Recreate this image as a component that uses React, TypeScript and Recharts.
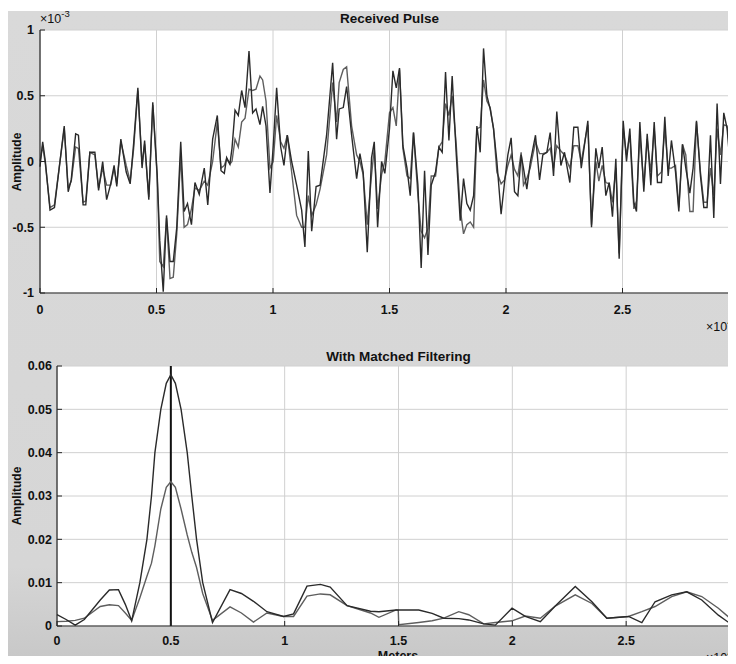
import React from 'react';
import { LineChart, Line, XAxis, YAxis, CartesianGrid, ReferenceLine } from 'recharts';

const FONT = '"Liberation Sans", Arial, Helvetica, sans-serif';

// shared range axis (meters)
const X_TICKS = [0, 5000, 10000, 15000, 20000, 25000, 30000];
const TOP_Y_TICKS = [-1, -0.5, 0, 0.5, 1];
const BOT_Y_TICKS = [0, 0.01, 0.02, 0.03, 0.04, 0.05, 0.06];

// received pulse, amplitude in units of 1e-3
const TOP_M = [
  0, 115, 230, 430, 620, 1040, 1210, 1340, 1530, 1650,
  1850, 1965, 2140, 2355, 2515, 2690, 2860, 3035, 3180, 3295,
  3470, 3700, 3870, 4020, 4200, 4380, 4490, 4670, 4840, 5030,
  5140, 5290, 5430, 5580, 5720, 5870, 6040, 6185, 6330, 6500,
  6650, 6835, 7050, 7200, 7410, 7610, 7770, 7910, 8010, 8150,
  8240, 8370, 8510, 8655, 8800, 8970, 9126, 9270, 9440, 9556,
  9700, 9870, 10010, 10156, 10330, 10470, 10614, 10800, 11014, 11230,
  11370, 11515, 11660, 11850, 12020, 12300, 12560, 12730, 12840, 13016,
  13160, 13375, 13590, 13730, 13870, 14045, 14230, 14346, 14490, 14660,
  14800, 15000, 15146, 15290, 15430, 15575, 15750, 15890, 16030, 16220,
  16360, 16505, 16650, 16790, 16976, 17120, 17262, 17405, 17550, 17690,
  17863, 18035, 18178, 18320, 18464, 18610, 18750, 18893, 19036, 19180,
  19320, 19465, 19608, 19790, 19937, 20080, 20220, 20366, 20510, 20650,
  20750, 20894, 21038, 21266, 21440, 21580, 21753, 21896, 22040, 22180,
  22355, 22510, 22740, 22910, 23085, 23230, 23513, 23670, 23856, 23985,
  24128, 24285, 24430, 24570, 24714, 24857, 25030, 25172, 25315, 25487,
  25600, 25745, 25915, 26060, 26216, 26360, 26500, 26673, 26816, 26960,
  27100, 27275, 27417, 27575, 27717, 27890, 28030, 28175, 28346, 28490,
  28630, 28775, 28918, 29060, 29204, 29346, 29490, 29660, 29820, 30000,
];

const TOP_A = [
  -0.04, 0.15, 0.0, -0.37, -0.35, 0.27, -0.23, -0.14, 0.21, 0.2,
  -0.33, -0.33, 0.07, 0.07, -0.22, 0.0, -0.29, -0.17, -0.03, -0.19,
  0.17, -0.08, -0.17, 0.14, 0.56, -0.05, 0.16, -0.29, 0.45, -0.1,
  -0.6, -0.99, -0.41, -0.76, -0.76, -0.5, 0.15, -0.38, -0.32, -0.48,
  -0.16, -0.25, -0.05, -0.33, 0.17, 0.35, -0.07, -0.09, 0.03, -0.02,
  0.1, 0.39, 0.35, 0.54, 0.41, 0.84, 0.37, 0.4, 0.28, 0.42,
  0.27, -0.24, 0.12, 0.56, 0.11, -0.03, 0.2, 0.0, -0.18, -0.37,
  -0.65, 0.08, -0.53, -0.19, -0.18, 0.2, 0.75, 0.17, 0.4, 0.41,
  0.57, 0.2, -0.13, 0.06, -0.08, -0.69, 0.03, 0.15, -0.5, 0.0,
  -0.09, 0.25, 0.69, 0.56, 0.71, 0.12, -0.05, -0.26, 0.22, -0.18,
  -0.81, -0.07, -0.71, -0.18, -0.08, 0.11, 0.07, 0.68, 0.16, 0.65,
  0.06, -0.45, -0.13, -0.32, -0.37, -0.26, 0.27, 0.07, 0.86, 0.5,
  0.4, 0.25, 0.0, -0.4, -0.16, 0.05, 0.18, -0.23, -0.26, 0.05,
  -0.05, -0.21, -0.01, 0.2, -0.14, 0.05, 0.07, 0.22, -0.11, 0.38,
  -0.03, 0.07, -0.16, 0.26, 0.26, -0.05, 0.31, -0.5, 0.1, -0.05,
  0.11, -0.26, -0.16, -0.42, 0.02, -0.74, 0.31, 0.0, 0.25, -0.31,
  -0.38, 0.3, -0.23, 0.21, -0.18, 0.3, -0.16, -0.16, 0.34, -0.11,
  0.16, -0.08, -0.38, 0.13, -0.05, -0.24, -0.05, 0.31, -0.11, -0.35,
  -0.35, 0.2, -0.43, 0.44, -0.17, 0.37, 0.25, -0.11, 0.02, 0.0,
];

const TOP_B = [
  0.0, 0.12, -0.02, -0.35, -0.33, 0.25, -0.2, -0.15, 0.11, 0.1,
  -0.31, -0.3, 0.07, 0.05, -0.2, -0.05, -0.18, -0.18, -0.05, -0.17,
  0.15, -0.03, -0.15, 0.1, 0.54, -0.02, 0.13, -0.27, 0.43, -0.12,
  -0.76, -0.8, -0.43, -0.89, -0.88, -0.55, 0.05, -0.5, -0.48, -0.36,
  -0.2, -0.22, -0.15, -0.18, 0.0, 0.3, -0.05, -0.03, 0.02, -0.02,
  0.0, 0.17, 0.11, 0.3, 0.33, 0.55, 0.54, 0.55, 0.65, 0.62,
  0.46, -0.05, 0.0, 0.35, 0.15, 0.1, 0.2, -0.08, -0.41, -0.5,
  -0.5, -0.26, -0.41, -0.33, -0.21, 0.05, 0.6, 0.3, 0.6, 0.7,
  0.72, 0.27, 0.05, 0.0, -0.1, -0.48, -0.1, 0.1, -0.36, -0.1,
  0.0, 0.37, 0.41, 0.27, 0.7, 0.1, -0.11, -0.13, 0.22, -0.26,
  -0.53, -0.58, -0.51, -0.11, -0.11, 0.11, 0.15, 0.44, 0.35, 0.5,
  0.13, -0.36, -0.55, -0.48, -0.46, -0.5, 0.25, 0.26, 0.62, 0.46,
  0.41, 0.25, -0.08, -0.17, -0.14, -0.03, 0.05, -0.06, -0.11, 0.07,
  -0.18, -0.13, -0.05, 0.15, 0.06, 0.06, 0.07, 0.1, -0.05, 0.12,
  0.08, 0.05, -0.05, 0.12, 0.12, 0.0, 0.28, -0.48, 0.0, -0.15,
  -0.03, -0.16, -0.17, -0.31, -0.05, -0.7, 0.25, 0.05, 0.2, -0.36,
  -0.3, 0.2, -0.18, 0.17, -0.08, 0.25, -0.11, -0.08, 0.25, -0.05,
  -0.05, -0.03, -0.35, 0.13, 0.05, -0.38, -0.38, 0.3, -0.08, -0.31,
  -0.31, -0.05, -0.26, 0.25, 0.05, 0.28, 0.27, 0.0, 0.01, 0.0,
];

// matched filter output
const BOT_M = [
  0, 400, 800, 1200, 1900, 2300, 2700, 3000, 3280, 3640,
  3950, 4150, 4300, 4560, 4800, 5000, 5200, 5450, 5720, 5920,
  6130, 6400, 6830, 7600, 8100, 8630, 9220, 9950, 10390, 10980,
  11570, 12000, 12740, 13770, 14140, 14900, 14990, 15010, 15890, 16477,
  16990, 17647, 18085, 18743, 19255, 19986, 20570, 21229, 21886, 22764,
  23495, 24153, 25103, 25688, 26270, 27000, 27660, 28320, 29050, 29560,
  29780, 30000,
];

const BOT_A = [
  0.0026, 0.0015, 0.0002, 0.0015, 0.006, 0.0083, 0.0084, 0.005, 0.0012, 0.01,
  0.02, 0.03, 0.04, 0.05, 0.056, 0.058, 0.056, 0.05, 0.04, 0.03,
  0.02, 0.01, 0.0008, 0.0084, 0.0075, 0.0057, 0.0033, 0.0022, 0.0028, 0.0092,
  0.0096, 0.009, 0.0047, 0.0034, 0.0033, 0.0037, 0.0037, 0.0037, 0.0037, 0.0029,
  0.0018, 0.0017, 0.0014, 0.0005, 0.0002, 0.0041, 0.0022, 0.001, 0.0046, 0.0091,
  0.0056, 0.0018, 0.0022, 0.0008, 0.0056, 0.0072, 0.0079, 0.006, 0.0025, 0.0006,
  0.0022, 0.0025,
];

const BOT_B = [
  0.001, 0.0011, 0.0013, 0.0018, 0.0045, 0.0049, 0.0047, 0.003, 0.0013, 0.0065,
  0.0115, 0.0145, 0.0185, 0.027, 0.032, 0.0333, 0.032, 0.027, 0.021, 0.017,
  0.0135, 0.0075, 0.0013, 0.0044, 0.003, 0.0009, 0.003, 0.0022, 0.0022, 0.0069,
  0.0074, 0.0072, 0.0047, 0.003, 0.002, 0.0037, 0.0036, 0.0003, 0.0008, 0.0012,
  0.0018, 0.0033, 0.0026, 0.0005, 0.0008, 0.0012, 0.0023, 0.0018, 0.0046, 0.0072,
  0.0052, 0.0018, 0.0022, 0.0033, 0.0045, 0.0068, 0.0079, 0.0068, 0.0041, 0.0018,
  0.0014, 0.0012,
];

const topData = TOP_M.map((m, i) => ({ m, a: TOP_A[i], b: TOP_B[i] }));
const botData = BOT_M.map((m, i) => ({ m, a: BOT_A[i], b: BOT_B[i] }));

const AXIS = '#262626';
const fmtX = (v: number) => String(v / 10000);
const fmtY = (v: number) => String(v);

const label = { fontFamily: FONT, fontWeight: 700, fill: '#111' };

// MATLAB style ticks: marks point into the plot box
function BottomTick(props: any) {
  const { x, y, payload, gap } = props;
  const ay = y - gap;
  return (
    <g>
      <line x1={x} x2={x} y1={ay} y2={ay - 5} stroke={AXIS} />
      <text x={x} y={y} dy="0.71em" textAnchor="middle" fontSize={12.5} {...label}>
        {fmtX(payload.value)}
      </text>
    </g>
  );
}

function LeftTick(props: any) {
  const { x, y, payload, gap } = props;
  const ax = x + gap;
  return (
    <g>
      <line x1={ax} x2={ax + 5} y1={y} y2={y} stroke={AXIS} />
      <text x={x} y={y} dy="0.35em" textAnchor="end" fontSize={12.5} {...label}>
        {fmtY(payload.value)}
      </text>
    </g>
  );
}

function TopTick(props: any) {
  const { x, y } = props;
  return <line x1={x} x2={x} y1={y} y2={y + 5} stroke={AXIS} />;
}

function RightTick(props: any) {
  const { x, y } = props;
  return <line x1={x} x2={x - 5} y1={y} y2={y} stroke={AXIS} />;
}

function Panel({ data, width, height, margin, yTicks, yDomain, yWidth, xHeight, xGap, yGap, children }: any) {
  return (
    <LineChart width={width} height={height} margin={margin} data={data}>
      <CartesianGrid stroke="#d0d0d0" fill="#ffffff" />
      <XAxis
        dataKey="m"
        type="number"
        domain={[0, 30000]}
        ticks={X_TICKS}
        interval={0}
        height={xHeight}
        tickSize={0}
        tickMargin={xGap}
        axisLine={{ stroke: AXIS, strokeWidth: 1.2 }}
        tickLine={false}
        tick={(p: any) => <BottomTick {...p} gap={xGap} />}
      />
      <XAxis
        xAxisId="top"
        orientation="top"
        type="number"
        domain={[0, 30000]}
        ticks={X_TICKS}
        interval={0}
        height={0}
        tickSize={0}
        tickMargin={0}
        axisLine={{ stroke: AXIS, strokeWidth: 1.2 }}
        tickLine={false}
        tick={(p: any) => <TopTick {...p} />}
      />
      <YAxis
        type="number"
        domain={yDomain}
        ticks={yTicks}
        interval={0}
        width={yWidth}
        tickSize={0}
        tickMargin={yGap}
        axisLine={{ stroke: AXIS, strokeWidth: 1.2 }}
        tickLine={false}
        tick={(p: any) => <LeftTick {...p} gap={yGap} />}
      />
      <YAxis
        yAxisId="right"
        orientation="right"
        type="number"
        domain={yDomain}
        ticks={yTicks}
        interval={0}
        width={0}
        tickSize={0}
        tickMargin={0}
        axisLine={{ stroke: AXIS, strokeWidth: 1.2 }}
        tickLine={false}
        tick={(p: any) => <RightTick {...p} />}
      />
      {children}
      <Line type="linear" dataKey="b" stroke="#5e5e5e" strokeWidth={1.4} dot={false} isAnimationActive={false} />
      <Line type="linear" dataKey="a" stroke="#2a2a2a" strokeWidth={1.4} dot={false} isAnimationActive={false} />
    </LineChart>
  );
}

const text = (extra: React.CSSProperties): React.CSSProperties => ({
  position: 'absolute',
  fontFamily: FONT,
  color: '#111',
  whiteSpace: 'nowrap',
  lineHeight: 1,
  ...extra,
});

function Exponent({ left, top, power }: { left: number; top: number; power: string }) {
  return (
    <div style={text({ left, top, fontSize: 12.5 })}>
      ×10<span style={{ fontSize: 9.5, position: 'relative', top: -6 }}>{power}</span>
    </div>
  );
}

export default function App() {
  return (
    <div style={{ position: 'relative', width: 736, height: 664, margin: -8, overflow: 'hidden', background: '#fff' }}>
      <div
        style={{
          position: 'absolute', left: 8, top: 11, right: 0, bottom: 0,
          background: 'linear-gradient(to bottom, #d9d9d9 0%, #d6d6d6 85%, #c7c7c7 100%)',
        }}
      />
      <div style={{ position: 'absolute', left: 0, top: 0 }}>
        <Panel
          data={topData}
          width={760}
          height={340}
          margin={{ top: 30, right: 21, bottom: 0, left: 0 }}
          yTicks={TOP_Y_TICKS}
          yDomain={[-1, 1]}
          yWidth={40}
          xHeight={47}
          xGap={12}
          yGap={6}
        />
      </div>
      <div style={{ position: 'absolute', left: 0, top: 340 }}>
        <Panel
          data={botData}
          width={760}
          height={324}
          margin={{ top: 26, right: 20, bottom: 0, left: 0 }}
          yTicks={BOT_Y_TICKS}
          yDomain={[0, 0.06]}
          yWidth={57}
          xHeight={38}
          xGap={10}
          yGap={5}
        >
          <ReferenceLine x={5000} stroke="#111" strokeWidth={2} />
        </Panel>
      </div>

      <div style={text({ left: 389.5, top: 19, fontSize: 13.5, fontWeight: 700, transform: 'translate(-50%, -50%)' })}>
        Received Pulse
      </div>
      <div style={text({ left: 398.5, top: 357, fontSize: 13.5, fontWeight: 700, transform: 'translate(-50%, -50%)' })}>
        With Matched Filtering
      </div>
      <div style={text({ left: 17, top: 162, fontSize: 12, fontWeight: 700, transform: 'translate(-50%, -50%) rotate(-90deg)' })}>
        Amplitude
      </div>
      <div style={text({ left: 17, top: 496, fontSize: 12, fontWeight: 700, transform: 'translate(-50%, -50%) rotate(-90deg)' })}>
        Amplitude
      </div>
      <div style={text({ left: 398, top: 656, fontSize: 12.5, fontWeight: 700, transform: 'translate(-50%, -50%)' })}>
        Meters
      </div>
      <Exponent left={40} top={13} power="-3" />
      <Exponent left={706} top={321} power="4" />
      <Exponent left={706} top={652} power="4" />
    </div>
  );
}
